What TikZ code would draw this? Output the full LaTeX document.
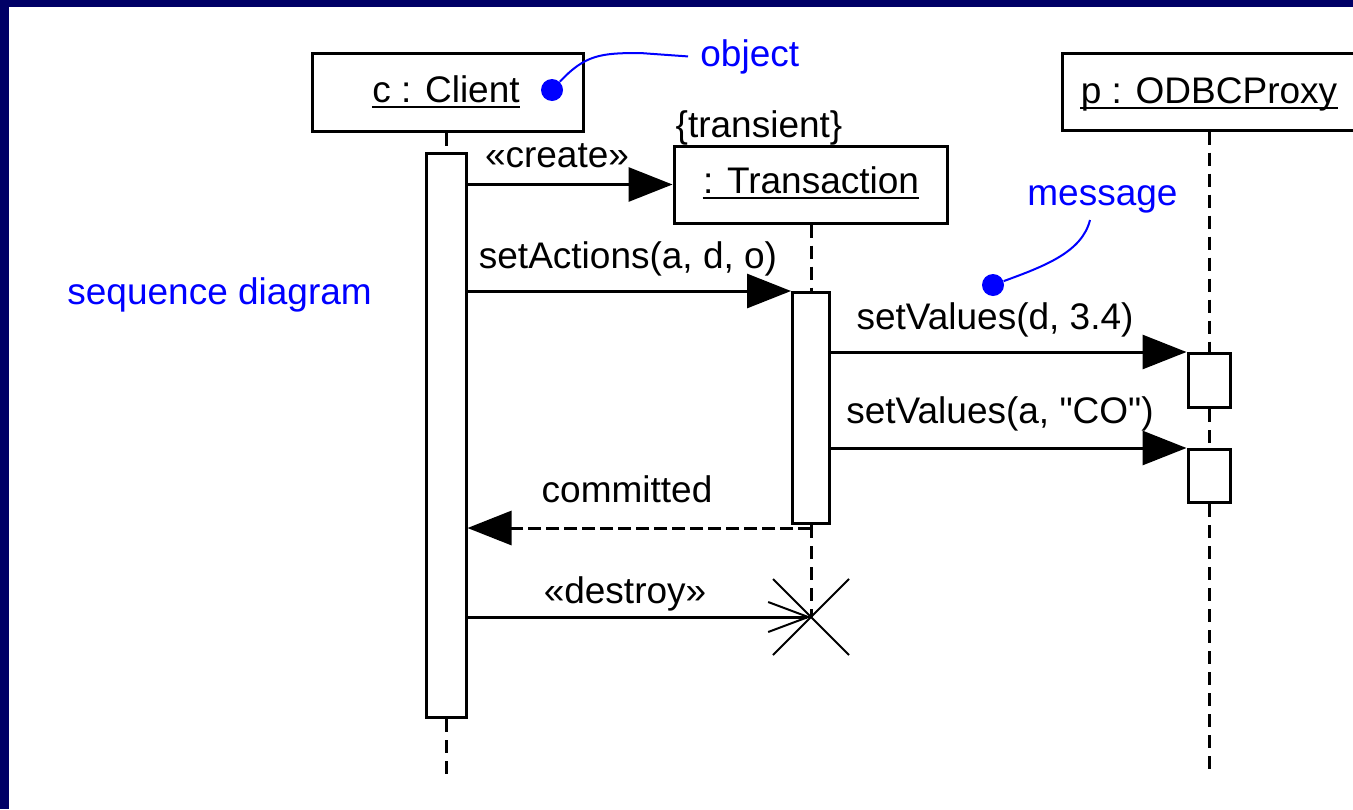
\documentclass[tikz,border=0pt]{standalone}
\usepackage{fontspec}
% plain family: no TeX ligature mapping, so " stays a straight quote
\newfontfamily\diagfont{Liberation Sans}
\usetikzlibrary{arrows.meta,calc}
\definecolor{frameblue}{RGB}{0,0,102}
\definecolor{annot}{RGB}{0,0,255}
\begin{document}
\begin{tikzpicture}[x=0.5pt,y=-0.5pt,
  every node/.style={font=\diagfont\fontsize{18.5}{22}\selectfont, inner sep=0pt},
  objbox/.style={draw, line width=1.5pt, fill=white, rectangle},
  actbar/.style={draw, line width=1.5pt, fill=white, rectangle, anchor=north},
  lifeline/.style={line width=1.5pt, dash pattern=on 6.5pt off 4pt},
  msg/.style={line width=1.5pt, -{Triangle[length=22pt,width=17pt]}},
  reply/.style={msg, dash pattern=on 6.5pt off 2.5pt},
  destroymsg/.style={line width=1.5pt, -{Straight Barb[length=20pt,width=15pt,line width=1pt]}},
  msgtext/.style={anchor=base},
  objname/.style={anchor=base},
  underl/.style={line width=1.2pt},
  annotext/.style={text=annot, anchor=base west},
  annolink/.style={draw=annot, line width=1pt},
  annodot/.style={circle, fill=annot, minimum size=11pt, inner sep=0pt}]

% page, frame
\useasboundingbox (0,0) rectangle (1353,809);
\clip (0,0) rectangle (1353,809);
\fill[white] (0,0) rectangle (1353,809);
\fill[frameblue] (0,0) rectangle (1353,6.5);
\fill[frameblue] (0,0) rectangle (8.5,809);

% objects
\node[objbox, minimum width=135.5pt, minimum height=39pt] (client) at (447.5,92) {};
\node[objname] (clientname) at (446,102) {c : Client};
\draw[underl] ([yshift=-2.5pt]clientname.base west) -- ([yshift=-2.5pt]clientname.base east);

\node[objbox, minimum width=136.5pt, minimum height=38.5pt] (trans) at (810.5,184.5) {};
\node[objname] (transname) at (811,193) {: Transaction};
\draw[underl] ([yshift=-2.5pt]transname.base west) -- ([yshift=-2.5pt]transname.base east);
\node[objname] (transient) at (759,137) {\{transient\}};

\node[objbox, minimum width=148pt, minimum height=38.5pt] (proxy) at (1210,91.5) {};
\node[objname] (proxyname) at (1209,103) {p : ODBCProxy};
\draw[underl] ([yshift=-2.5pt]proxyname.base west) -- ([yshift=-2.5pt]proxyname.base east);

% activation bars
\node[actbar, minimum width=20pt, minimum height=282pt] (clientbar) at (446,152) {};
\node[actbar, minimum width=18.5pt, minimum height=115.5pt] (transbar) at (811,291) {};
\node[actbar, minimum width=21pt, minimum height=27pt] (proxyA) at (1209,352) {};
\node[actbar, minimum width=21pt, minimum height=26.5pt] (proxyB) at (1209,448) {};

% lifeline ends and destruction point
\coordinate (clientend) at (446,775);
\coordinate (proxyend) at (1209,773);
\coordinate (xmark) at (811,617);

% lifelines
\draw[lifeline] (clientbar.north |- client.south) -- (clientbar.north);
\draw[lifeline] (clientbar.south) -- (clientend);
\draw[lifeline] (transbar.north |- trans.south) -- (transbar.north);
\draw[lifeline] (transbar.south) -- (xmark);
\draw[lifeline] (proxyA.north |- proxy.south) -- (proxyA.north);
\draw[lifeline] (proxyA.south) -- (proxyB.north);
\draw[lifeline] (proxyB.south) -- (proxyend);

% destruction cross
\draw[line width=1pt] ($(xmark)+(-38,-38)$) -- ($(xmark)+(38,38)$);
\draw[line width=1pt] ($(xmark)+(38,-38)$) -- ($(xmark)+(-38,38)$);

% messages
\draw[msg] (clientbar.east |- trans.west) -- (trans.west);
\node[msgtext] (createlbl) at (557,167) {«create»};

\draw[msg] (clientbar.east |- transbar.north) -- (transbar.north west);
\node[msgtext] (setactlbl) at (628,268) {setActions(a, d, o)};

\draw[msg] (transbar.east |- proxyA.north) -- (proxyA.north west);
\node[msgtext] (setval1lbl) at (995,329) {setValues(d, 3.4)};

\draw[msg] (transbar.east |- proxyB.north) -- (proxyB.north west);
\node[msgtext] (setval2lbl) at (1000,423) {setValues(a, "CO")};

\draw[reply] ($(transbar.south)+(0,3)$) -- ($(clientbar.east |- transbar.south)+(0,3)$);
\node[msgtext] (commitlbl) at (627,502) {committed};

\draw[destroymsg] (clientbar.east |- xmark) -- (xmark);
\node[msgtext] (destroylbl) at (625,603) {«destroy»};

% annotations
\node[annodot] (objdot) at (552,90) {};
\node[annotext] (objlbl) at (700,66) {object};
\draw[annolink] (objdot) .. controls (585,55) and (600,53) .. (640,53) -- ([xshift=-6pt]objlbl.west);

\node[annotext] (msglbl) at (1027,205) {message};
\coordinate (msgtail) at (1090,220);
\node[annodot] (msgdot) at (993,285) {};
\draw[annolink] (msgtail) .. controls (1082,252) and (1045,266) .. (msgdot);

\node[annotext] (seqlbl) at (67,304) {sequence diagram};
\end{tikzpicture}
\end{document}
